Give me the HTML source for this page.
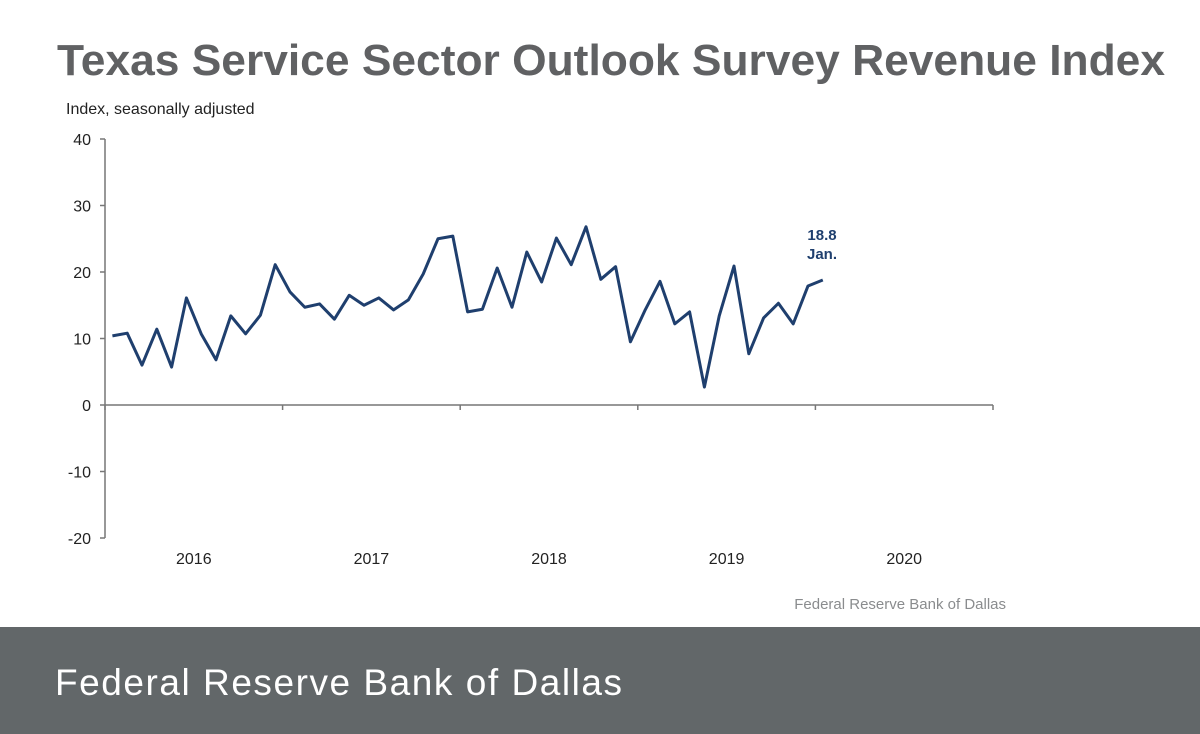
<!DOCTYPE html>
<html><head><meta charset="utf-8"><style>
body{margin:0;background:#fff;}
svg{display:block;font-family:"Liberation Sans",Arial,sans-serif;}
</style></head><body>
<svg width="1200" height="734" viewBox="0 0 1200 734">
<text x="57" y="75" font-size="44" font-weight="bold" fill="#606163" textLength="1108" lengthAdjust="spacingAndGlyphs">Texas Service Sector Outlook Survey Revenue Index</text>
<text x="66" y="114" font-size="16" fill="#222">Index, seasonally adjusted</text>
<g id="axes"></g>
<g id="series"></g>
<text x="822" y="240" font-size="15" font-weight="bold" fill="#1f3f6e" text-anchor="middle">18.8</text>
<text x="822" y="259" font-size="15" font-weight="bold" fill="#1f3f6e" text-anchor="middle">Jan.</text>
<text x="1006" y="609" font-size="15" fill="#8a8c8e" text-anchor="end">Federal Reserve Bank of Dallas</text>
<rect x="0" y="627" width="1200" height="107" fill="#626769"/>
<text x="55" y="695" font-size="37" fill="#fff" textLength="567" lengthAdjust="spacing">Federal Reserve Bank of Dallas</text>
</svg>
<script>
const values=[10.4,10.8,6.0,11.4,5.7,16.1,10.7,6.8,13.4,10.7,13.5,21.1,17.0,14.7,15.2,12.9,16.5,15.0,16.1,14.3,15.8,19.7,25.0,25.4,14.0,14.4,20.6,14.7,23.0,18.5,25.1,21.1,26.8,18.9,20.8,9.5,14.3,18.6,12.2,14.0,2.7,13.4,20.9,7.7,13.1,15.3,12.2,17.9,18.8];
const yTicks=[40,30,20,10,0,-10,-20];
const xYears=["2016","2017","2018","2019","2020"];
const NS='http://www.w3.org/2000/svg';
const x0=105,monthW=14.8;
const xScale=i=>x0+(i+0.5)*monthW;
const yScale=v=>405-v*6.65;
const axes=document.getElementById('axes');
function mk(tag,attrs,parent){const e=document.createElementNS(NS,tag);for(const k in attrs)e.setAttribute(k,attrs[k]);parent.appendChild(e);return e;}
const ya=mk('line',{x1:x0,x2:x0,y1:yScale(40),y2:yScale(-20),stroke:'#777','stroke-width':1.5},axes);


yTicks.forEach(v=>{
 const t=mk('line',{x1:x0-5,x2:x0,y1:yScale(v),y2:yScale(v),stroke:'#777','stroke-width':1.5},axes);
 
 
 const l=mk('text',{x:91,y:yScale(v)+6,'font-size':16,fill:'#222','text-anchor':'end'},axes);
 l.textContent=v;
 
 
});
const yearW=12*monthW;
const xa=mk('line',{x1:x0,x2:x0+xYears.length*yearW,y1:yScale(0),y2:yScale(0),stroke:'#777','stroke-width':1.5},axes);


for(let k=0;k<=xYears.length;k++){
 const t=mk('line',{x1:x0+k*yearW,x2:x0+k*yearW,y1:yScale(0),y2:yScale(0)+5,stroke:'#777','stroke-width':1.5},axes);
 
 
}
xYears.forEach((y,k)=>{
 const l=mk('text',{x:x0+(k+0.5)*yearW,y:564,'font-size':16,fill:'#222','text-anchor':'middle'},axes);
 l.textContent=y;
 
 
});
const p=mk('polyline',{points:values.map((v,i)=>xScale(i)+','+yScale(v)).join(' '),fill:'none',stroke:'#1f3f6e','stroke-width':3,'stroke-linejoin':'round'},document.getElementById('series'));


</script>
</body></html>
